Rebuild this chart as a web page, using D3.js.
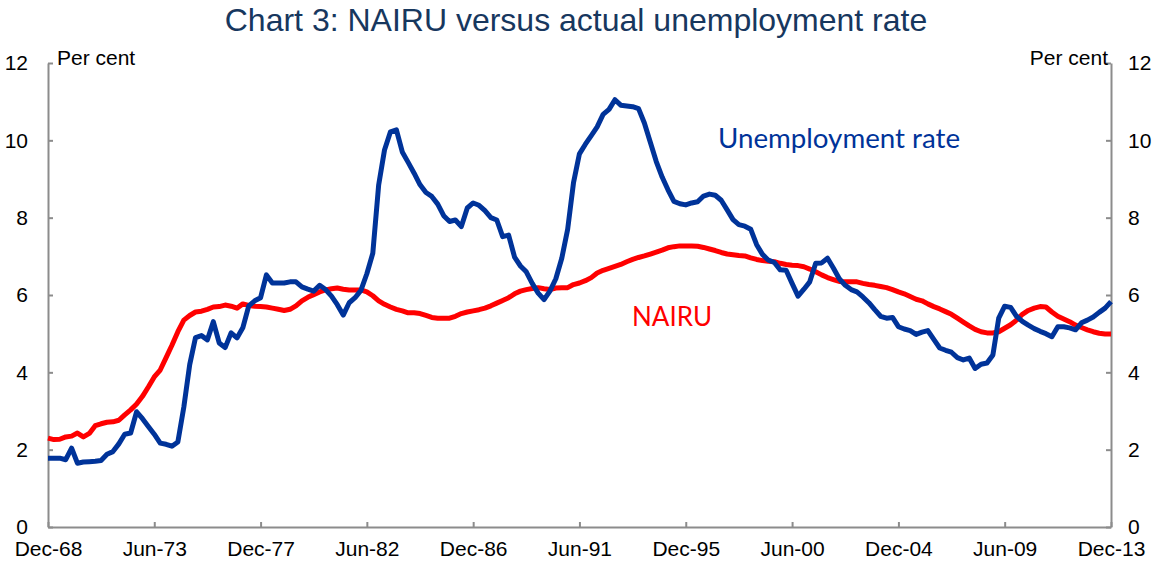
<!DOCTYPE html>
<html>
<head>
<meta charset="utf-8">
<script src="https://cdn.jsdelivr.net/npm/d3@7"></script>
<style>
  body { margin: 0; background: #fff; }
  svg text { font-family: "Liberation Sans", Arial, sans-serif; }
</style>
</head>
<body>
<svg id="chart" width="1158" height="567"></svg>
<script>
// quarterly data, Dec-68 to Dec-13
var startYear = 1968, startMonth = 11;
var tickLabels = ["Dec-68", "Jun-73", "Dec-77", "Jun-82", "Dec-86", "Jun-91",
  "Dec-95", "Jun-00", "Dec-04", "Jun-09", "Dec-13"];
var yTicks = [0, 2, 4, 6, 8, 10, 12];

var unemployment = [
  1.78, 1.78, 1.78, 1.74, 2.04, 1.65, 1.68, 1.69, 1.70, 1.72,
  1.88, 1.95, 2.15, 2.40, 2.43, 2.98, 2.80, 2.60, 2.40, 2.17,
  2.14, 2.09, 2.20, 3.10, 4.20, 4.90, 4.95, 4.84, 5.31, 4.76,
  4.64, 5.02, 4.89, 5.15, 5.72, 5.85, 5.93, 6.52, 6.31, 6.31,
  6.31, 6.34, 6.34, 6.21, 6.15, 6.10, 6.25, 6.14, 5.97, 5.75,
  5.48, 5.80, 5.93, 6.12, 6.55, 7.08, 8.85, 9.75, 10.22, 10.27,
  9.70, 9.43, 9.15, 8.85, 8.65, 8.55, 8.35, 8.05, 7.90, 7.94,
  7.77, 8.25, 8.38, 8.32, 8.18, 8.00, 7.94, 7.51, 7.55, 6.98,
  6.75, 6.60, 6.30, 6.05, 5.88, 6.10, 6.42, 6.95, 7.70, 8.90,
  9.65, 9.90, 10.12, 10.35, 10.67, 10.80, 11.05, 10.91, 10.89, 10.87,
  10.82, 10.45, 9.95, 9.45, 9.05, 8.72, 8.42, 8.36, 8.33, 8.38,
  8.41, 8.56, 8.61, 8.58, 8.45, 8.20, 7.95, 7.82, 7.78, 7.70,
  7.30, 7.05, 6.90, 6.84, 6.65, 6.64, 6.30, 5.97, 6.15, 6.34,
  6.82, 6.83, 6.95, 6.70, 6.42, 6.25, 6.14, 6.08, 5.95, 5.80,
  5.62, 5.45, 5.40, 5.42, 5.18, 5.12, 5.08, 4.98, 5.04, 5.08,
  4.85, 4.63, 4.57, 4.52, 4.38, 4.32, 4.37, 4.10, 4.21, 4.24,
  4.45, 5.40, 5.71, 5.68, 5.45, 5.32, 5.22, 5.13, 5.06, 5.00,
  4.92, 5.18, 5.18, 5.15, 5.10, 5.28, 5.35, 5.43, 5.55, 5.66,
  5.83
];

var nairu = [
  2.30, 2.26, 2.27, 2.33, 2.35, 2.43, 2.33, 2.42, 2.62, 2.67,
  2.71, 2.72, 2.76, 2.90, 3.03, 3.18, 3.38, 3.62, 3.88, 4.06,
  4.38, 4.70, 5.05, 5.35, 5.47, 5.56, 5.58, 5.63, 5.69, 5.70,
  5.74, 5.71, 5.66, 5.77, 5.73, 5.71, 5.70, 5.69, 5.66, 5.63,
  5.60, 5.63, 5.72, 5.85, 5.94, 6.01, 6.08, 6.13, 6.16, 6.18,
  6.15, 6.13, 6.13, 6.13, 6.08, 5.98, 5.85, 5.76, 5.69, 5.63,
  5.59, 5.54, 5.54, 5.52, 5.47, 5.42, 5.40, 5.40, 5.40, 5.45,
  5.52, 5.56, 5.59, 5.62, 5.66, 5.72, 5.79, 5.86, 5.93, 6.03,
  6.10, 6.14, 6.17, 6.19, 6.16, 6.14, 6.18, 6.19, 6.19, 6.27,
  6.31, 6.37, 6.45, 6.57, 6.64, 6.69, 6.74, 6.79, 6.86, 6.92,
  6.97, 7.01, 7.06, 7.11, 7.16, 7.22, 7.25, 7.27, 7.27, 7.27,
  7.26, 7.23, 7.19, 7.15, 7.10, 7.06, 7.04, 7.02, 7.01, 6.96,
  6.92, 6.89, 6.87, 6.86, 6.82, 6.79, 6.77, 6.76, 6.73, 6.67,
  6.60, 6.52, 6.45, 6.40, 6.35, 6.34, 6.34, 6.34, 6.30, 6.27,
  6.25, 6.22, 6.19, 6.14, 6.08, 6.03, 5.96, 5.89, 5.85, 5.77,
  5.70, 5.64, 5.57, 5.50, 5.40, 5.30, 5.20, 5.11, 5.05, 5.02,
  5.02, 5.05, 5.14, 5.23, 5.35, 5.50, 5.60, 5.66, 5.70, 5.69,
  5.56, 5.45, 5.38, 5.31, 5.22, 5.16, 5.10, 5.05, 5.01, 4.99,
  4.99
];

var dates = unemployment.map(function(d, i) {
  return new Date(startYear, startMonth + 3 * i, 1);
});

var svg = d3.select("#chart");
var margin = { left: 48, right: 1111, top: 63, bottom: 527 };

var x = d3.scaleTime()
  .domain([dates[0], dates[dates.length - 1]])
  .range([margin.left, margin.right]);
var y = d3.scaleLinear().domain([0, 12]).range([margin.bottom, margin.top]);

var axisColor = "#8c8c8c";

// title
svg.append("text")
  .attr("x", 576)
  .attr("y", 31)
  .attr("text-anchor", "middle")
  .style("font-size", "32px")
  .style("fill", "#17375e")
  .text("Chart 3: NAIRU versus actual unemployment rate");

// left axis
var leftAxis = svg.append("g")
  .attr("transform", "translate(" + margin.left + ",0)")
  .call(d3.axisLeft(y).tickValues(yTicks).tickSizeInner(-5).tickSizeOuter(0).tickPadding(20));
// right axis
var rightAxis = svg.append("g")
  .attr("transform", "translate(" + margin.right + ",0)")
  .call(d3.axisRight(y).tickValues(yTicks).tickSizeInner(-5).tickSizeOuter(0).tickPadding(17));
// bottom axis
var tickDates = tickLabels.map(function(d, i) { return dates[i * 18]; });
var bottomAxis = svg.append("g")
  .attr("transform", "translate(0," + margin.bottom + ")")
  .call(d3.axisBottom(x).tickValues(tickDates).tickSizeInner(-5).tickSizeOuter(0)
    .tickPadding(14)
    .tickFormat(function(d, i) { return tickLabels[i]; }));

[leftAxis, rightAxis, bottomAxis].forEach(function(g) {
  g.select(".domain").attr("stroke", axisColor).attr("stroke-width", 2);
  g.selectAll(".tick line").attr("stroke", axisColor).attr("stroke-width", 2);
  g.selectAll(".tick text")
    .style("font-family", "'Liberation Sans', Arial, sans-serif")
    .style("font-size", "21px")
    .style("fill", "#000");
});

svg.append("text")
  .attr("x", 57).attr("y", 65)
  .style("font-size", "21px")
  .text("Per cent");
svg.append("text")
  .attr("x", 1108).attr("y", 65)
  .attr("text-anchor", "end")
  .style("font-size", "21px")
  .text("Per cent");

var line = d3.line()
  .x(function(d, i) { return x(dates[i]); })
  .y(function(d) { return y(d); });

svg.append("path")
  .datum(nairu)
  .attr("d", line)
  .attr("fill", "none")
  .attr("stroke", "#ff0000")
  .attr("stroke-width", 5)
  .attr("stroke-linejoin", "round");

svg.append("path")
  .datum(unemployment)
  .attr("d", line)
  .attr("fill", "none")
  .attr("stroke", "#003399")
  .attr("stroke-width", 5)
  .attr("stroke-linejoin", "round");

// series labels
svg.append("text")
  .attr("x", 718).attr("y", 148)
  .attr("textLength", 242)
  .attr("lengthAdjust", "spacingAndGlyphs")
  .style("font-family", "Lato, 'Open Sans', sans-serif")
  .style("font-size", "26px")
  .style("fill", "#003399")
  .text("Unemployment rate");
svg.append("text")
  .attr("x", 632).attr("y", 326)
  .style("font-family", "Lato, 'Open Sans', sans-serif")
  .style("font-size", "26px")
  .style("fill", "#ff0000")
  .text("NAIRU");
</script>
</body>
</html>
